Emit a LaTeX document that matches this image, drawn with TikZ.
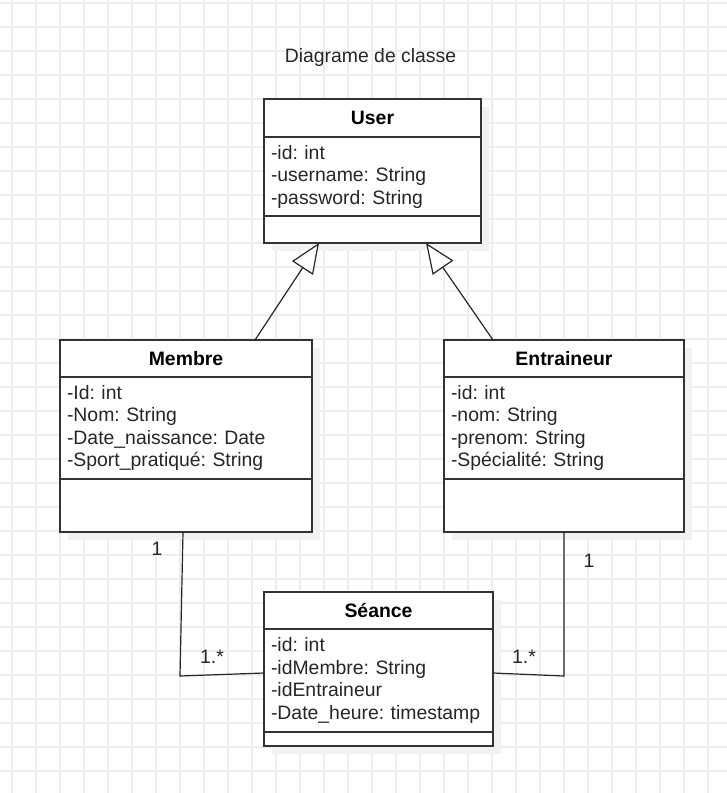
\documentclass[tikz,border=0pt]{standalone}
\usepackage{fontspec}
\setmainfont{Liberation Sans}
\usetikzlibrary{positioning,arrows.meta,shadows}
\frenchspacing

\begin{document}
\begin{tikzpicture}[x=1pt, y=-1pt,
    every node/.style={font=\fontsize{19.4}{22.5}\selectfont, text=black!85},
    gridline/.style={draw=black!7, line width=1.2pt},
    shade/.style={drop shadow={shadow xshift=8pt, shadow yshift=-8pt,
        opacity=1, fill=black!5, draw=none}},
    hdr/.style={draw=black!80, fill=white, line width=1.2pt,
        font=\fontsize{19.4}{22.5}\selectfont\bfseries, text=black,
        text height=13.8pt, text depth=0pt,
        inner sep=0pt, outer sep=0pt},
    attrs/.style={draw=black!80, fill=white, line width=1.2pt,
        align=left, inner xsep=7pt, inner ysep=0pt, outer sep=0pt},
    ops/.style={draw=black!80, fill=white, line width=1.2pt,
        inner sep=0pt, outer sep=0pt},
    link/.style={draw=black!85, line width=1.2pt},
    inherit/.style={link, -{Triangle[open, length=30pt, width=25pt, fill=white]}},
    ]
    \useasboundingbox (0,0) rectangle (727,793);
    % background grid
    \foreach \gx in {12,36,...,708} \draw[gridline] (\gx,0) -- (\gx,793);
    \foreach \gy in {3,27,...,771} \draw[gridline] (0,\gy) -- (727,\gy);

    \node[anchor=base] (title) at (370.5,62.3) {Diagrame de classe};

    % User
    \node[hdr, shade, minimum width=217pt, minimum height=38pt] (user) at (372.5,118) {User};
    \node[attrs, shade, text width=203pt, minimum height=79pt, below=0pt of user] (user-attr)
        {-id: int\\-username: String\\-password: String};
    \node[ops, shade, minimum width=217pt, minimum height=27pt, below=0pt of user-attr] (user-ops) {};

    % Membre
    \node[hdr, shade, minimum width=252pt, minimum height=37pt] (membre) at (186,358.5) {Membre};
    \node[attrs, shade, text width=238pt, minimum height=102pt, below=0pt of membre] (membre-attr)
        {-Id: int\\-Nom: String\\-Date\_naissance: Date\\-Sport\_pratiqué: String};
    \node[ops, shade, minimum width=252pt, minimum height=53pt, below=0pt of membre-attr] (membre-ops) {};

    % Entraineur
    \node[hdr, shade, minimum width=240pt, minimum height=37pt] (entr) at (564,358.5) {Entraineur};
    \node[attrs, shade, text width=226pt, minimum height=102pt, below=0pt of entr] (entr-attr)
        {-id: int\\-nom: String\\-prenom: String\\-Spécialité: String};
    \node[ops, shade, minimum width=240pt, minimum height=53pt, below=0pt of entr-attr] (entr-ops) {};

    % Seance
    \node[hdr, shade, minimum width=229pt, minimum height=37pt] (seance) at (378.5,610.5) {Séance};
    \node[attrs, shade, text width=215pt, minimum height=103pt, below=0pt of seance] (seance-attr)
        {-id: int\\-idMembre: String\\-idEntraineur\\-Date\_heure: timestamp};
    \node[ops, shade, minimum width=229pt, minimum height=14pt, below=0pt of seance-attr] (seance-ops) {};

    % heritage
    \draw[inherit] ([xshift=69pt]membre.north) -- ([xshift=-53.5pt]user-ops.south);
    \draw[inherit] ([xshift=-71pt]entr.north) -- ([xshift=53.5pt]user-ops.south);

    % associations
    \draw[link] ([xshift=-3pt]membre-ops.south) -- ++(-3,144) -- ([yshift=7.5pt]seance-attr.west);
    \draw[link] (entr-ops.south) -- ++(0,144) -- ([yshift=7.5pt]seance-attr.east);
    \node[anchor=base] (m-one) at (157,555) {1};
    \node[anchor=base] (m-many) at (212,663) {1.*};
    \node[anchor=base] (e-one) at (589,567) {1};
    \node[anchor=base] (e-many) at (524,663) {1.*};
\end{tikzpicture}
\end{document}
